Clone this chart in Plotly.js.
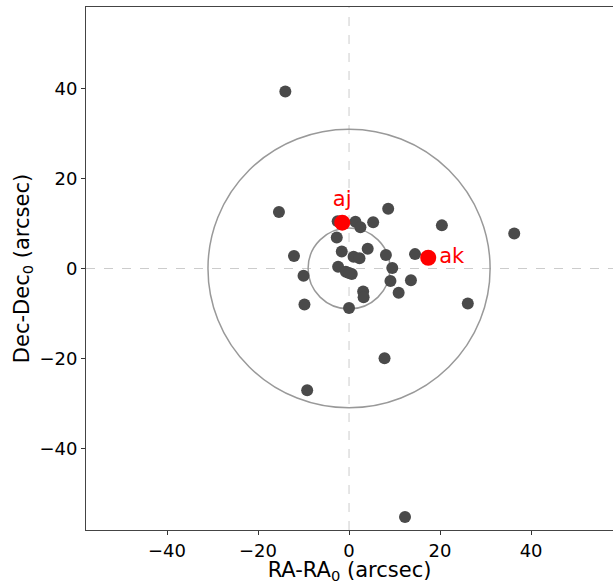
<!DOCTYPE html>
<html><head><meta charset="utf-8">
<script src="https://cdn.plot.ly/plotly-3.0.1.min.js"></script>
<style>body{margin:0;padding:0;background:#fff}#plot{width:613px;height:584px}</style>
</head><body><div id="plot"></div>
<script>
// Field sources (offsets in arcsec)
const srcRA  = [-14.0,-15.4,-2.5, 1.4, 2.5, 5.3, 8.6,20.4,36.3,-2.7,-12.1,-1.6, 1.0, 2.3, 4.1, 8.1,14.5, 9.5,-2.4,-0.7, 0.6, 0.0,-10.0,-9.8, 3.1, 3.2, 9.1,10.9,13.6,26.1,-0.0, 7.8,-9.2,12.3];
const srcDec = [39.4, 12.6,10.5,10.4, 9.2,10.3,13.3, 9.6, 7.8, 6.9, 2.8, 3.8, 2.6, 2.3, 4.4, 3.0, 3.2, 0.1, 0.4,-0.7,-1.2,-1.0,-1.6,-8.0,-5.1,-6.4,-2.8,-5.4,-2.6,-7.8,-8.8,-20.0,-27.1,-55.3];
// Highlighted sources
const hlNames = ["aj","ak"];
const hlRA  = [-1.5, 17.4];
const hlDec = [10.2, 2.4];
// Reference circles (radius, arcsec)
const circleRadii = [31, 9];
const xTicks = [-40,-20,0,20,40];
const yTicks = [-40,-20,0,20,40];

const shapes = [
  {type:'line',xref:'x',yref:'paper',x0:0,x1:0,y0:0,y1:1,line:{color:'#cccccc',width:1,dash:'dash'},layer:'below'},
  {type:'line',xref:'paper',yref:'y',x0:0,x1:1,y0:0,y1:0,line:{color:'#cccccc',width:1,dash:'dash'},layer:'below'}
];
circleRadii.forEach(r=>shapes.push({type:'circle',xref:'x',yref:'y',x0:-r,x1:r,y0:-r,y1:r,line:{color:'#999999',width:1.5},layer:'below'}));

const traces = [
  {x:srcRA,y:srcDec,mode:'markers',type:'scatter',marker:{color:'#4a4a4a',size:12},hoverinfo:'x+y'},
  {x:[hlRA[0]],y:[hlDec[0]],mode:'markers+text',type:'scatter',text:[hlNames[0]],textposition:'top center',
   textfont:{color:'#ff0000',size:21,family:'DejaVu Sans'},marker:{color:'#ff0000',size:16}},
  {x:[hlRA[1]],y:[hlDec[1]],mode:'markers+text',type:'scatter',text:[hlNames[1]],textposition:'middle right',
   textfont:{color:'#ff0000',size:21,family:'DejaVu Sans'},marker:{color:'#ff0000',size:16}}
];

const axisCommon = {showgrid:false,zeroline:false,showline:true,linecolor:'#444',linewidth:1,mirror:true,
  ticks:'outside',ticklen:4,tickcolor:'#333',tickfont:{size:18,color:'#000',family:'DejaVu Sans'}};

const layout = {
  width:613,height:584,showlegend:false,
  margin:{l:86,r:0,t:7,b:54},
  paper_bgcolor:'#fff',plot_bgcolor:'#fff',
  font:{family:'DejaVu Sans',color:'#000'},
  xaxis:Object.assign({},axisCommon,{range:[-57.8,58],tickvals:xTicks,ticktext:xTicks.map(v=>v<0?'\u2212'+Math.abs(v):String(v)),
    title:{text:'RA-RA<sub>0</sub> (arcsec)',font:{size:21,family:'DejaVu Sans'},standoff:1}}),
  yaxis:Object.assign({},axisCommon,{range:[-58.2,58.2],tickvals:yTicks,ticktext:yTicks.map(v=>v<0?'\u2212'+Math.abs(v):String(v)),
    title:{text:'Dec-Dec<sub>0</sub> (arcsec)',font:{size:21,family:'DejaVu Sans'},standoff:4}}),
  shapes:shapes
};
Plotly.newPlot('plot',traces,layout,{displayModeBar:false,staticPlot:true});
</script></body></html>
